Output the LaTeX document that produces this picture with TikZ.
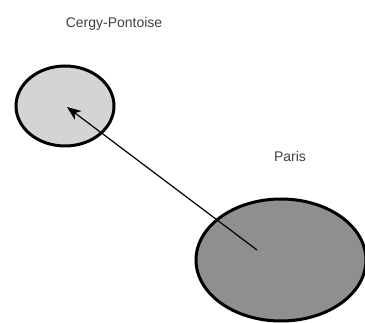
\documentclass[tikz,border=0pt]{standalone}
\usepackage{fontspec}
\setmainfont{Liberation Sans}
\usetikzlibrary{arrows.meta,shapes.geometric}
\begin{document}
\begin{tikzpicture}[x=1pt,y=-1pt,
  place/.style={draw=black,line width=3pt,ellipse,inner sep=0pt,outer sep=0pt},
  lbl/.style={font=\fontsize{14}{16}\selectfont,text=black!75},
  link/.style={line width=1.2pt,-{Stealth[length=14pt,width=11pt,inset=4pt]}}]
  \useasboundingbox (0,0) rectangle (365,323);
  % towns
  \node[place,fill=black!17,minimum width=98pt,minimum height=80pt] (cergy) at (65,106) {};
  \node[place,fill=black!44,minimum width=170pt,minimum height=122pt] (paris) at (281,260) {};
  \node[lbl] (cergylabel) at (114,24) {Cergy-Pontoise};
  \node[lbl] (parislabel) at (290,156) {Paris};
  % route between the two centres
  \draw[link] ([shift={(-24,-10)}]paris.center) -- ([shift={(2,1)}]cergy.center);
\end{tikzpicture}
\end{document}
